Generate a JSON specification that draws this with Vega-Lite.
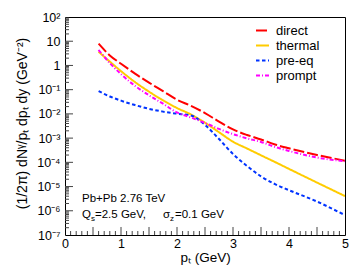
{
  "$schema": "https://vega.github.io/schema/vega-lite/v6.json",
  "width": 280,
  "height": 218,
  "autosize": "none",
  "padding": {"left": 65, "top": 17, "right": 15, "bottom": 45},
  "background": "white",
  "config": {
    "font": "Liberation Sans",
    "view": {"stroke": "#000", "strokeWidth": 1}
  },
  "datasets": {
    "spectra": [
      {"pT": 0.6, "yield": 7.9, "process": "direct"},
      {"pT": 0.8, "yield": 2.6, "process": "direct"},
      {"pT": 1.0, "yield": 1.18, "process": "direct"},
      {"pT": 1.25, "yield": 0.46, "process": "direct"},
      {"pT": 1.5, "yield": 0.195, "process": "direct"},
      {"pT": 1.75, "yield": 0.087, "process": "direct"},
      {"pT": 2.0, "yield": 0.0385, "process": "direct"},
      {"pT": 2.25, "yield": 0.0215, "process": "direct"},
      {"pT": 2.5, "yield": 0.0108, "process": "direct"},
      {"pT": 2.75, "yield": 0.0048, "process": "direct"},
      {"pT": 3.0, "yield": 0.00228, "process": "direct"},
      {"pT": 3.25, "yield": 0.00135, "process": "direct"},
      {"pT": 3.5, "yield": 0.00088, "process": "direct"},
      {"pT": 3.75, "yield": 0.000546, "process": "direct"},
      {"pT": 4.0, "yield": 0.00038, "process": "direct"},
      {"pT": 4.5, "yield": 0.000201, "process": "direct"},
      {"pT": 5.0, "yield": 0.000117, "process": "direct"},

      {"pT": 0.6, "yield": 3.66, "process": "thermal"},
      {"pT": 0.8, "yield": 1.44, "process": "thermal"},
      {"pT": 1.0, "yield": 0.583, "process": "thermal"},
      {"pT": 1.25, "yield": 0.206, "process": "thermal"},
      {"pT": 1.5, "yield": 0.0828, "process": "thermal"},
      {"pT": 1.75, "yield": 0.0361, "process": "thermal"},
      {"pT": 2.0, "yield": 0.0175, "process": "thermal"},
      {"pT": 2.25, "yield": 0.00942, "process": "thermal"},
      {"pT": 2.5, "yield": 0.00432, "process": "thermal"},
      {"pT": 2.75, "yield": 0.00175, "process": "thermal"},
      {"pT": 3.0, "yield": 0.000713, "process": "thermal"},
      {"pT": 3.25, "yield": 0.000373, "process": "thermal"},
      {"pT": 3.5, "yield": 0.000195, "process": "thermal"},
      {"pT": 3.75, "yield": 0.000103, "process": "thermal"},
      {"pT": 4.0, "yield": 0.0000535, "process": "thermal"},
      {"pT": 4.5, "yield": 0.0000146, "process": "thermal"},
      {"pT": 5.0, "yield": 0.00000404, "process": "thermal"},

      {"pT": 0.6, "yield": 0.0875, "process": "pre-eq"},
      {"pT": 0.8, "yield": 0.0524, "process": "pre-eq"},
      {"pT": 1.0, "yield": 0.0351, "process": "pre-eq"},
      {"pT": 1.25, "yield": 0.0231, "process": "pre-eq"},
      {"pT": 1.5, "yield": 0.0162, "process": "pre-eq"},
      {"pT": 1.75, "yield": 0.0124, "process": "pre-eq"},
      {"pT": 2.0, "yield": 0.0102, "process": "pre-eq"},
      {"pT": 2.25, "yield": 0.00865, "process": "pre-eq"},
      {"pT": 2.5, "yield": 0.0035, "process": "pre-eq"},
      {"pT": 2.75, "yield": 0.00092, "process": "pre-eq"},
      {"pT": 3.0, "yield": 0.000221, "process": "pre-eq"},
      {"pT": 3.25, "yield": 0.0000708, "process": "pre-eq"},
      {"pT": 3.5, "yield": 0.0000263, "process": "pre-eq"},
      {"pT": 3.75, "yield": 0.0000126, "process": "pre-eq"},
      {"pT": 4.0, "yield": 0.00000708, "process": "pre-eq"},
      {"pT": 4.5, "yield": 0.0000024, "process": "pre-eq"},
      {"pT": 5.0, "yield": 0.00000066, "process": "pre-eq"},

      {"pT": 0.6, "yield": 4.35, "process": "prompt"},
      {"pT": 0.8, "yield": 1.25, "process": "prompt"},
      {"pT": 1.0, "yield": 0.438, "process": "prompt"},
      {"pT": 1.25, "yield": 0.144, "process": "prompt"},
      {"pT": 1.5, "yield": 0.0587, "process": "prompt"},
      {"pT": 1.75, "yield": 0.0264, "process": "prompt"},
      {"pT": 2.0, "yield": 0.0115, "process": "prompt"},
      {"pT": 2.25, "yield": 0.00708, "process": "prompt"},
      {"pT": 2.5, "yield": 0.00424, "process": "prompt"},
      {"pT": 2.75, "yield": 0.00239, "process": "prompt"},
      {"pT": 3.0, "yield": 0.00146, "process": "prompt"},
      {"pT": 3.25, "yield": 0.000977, "process": "prompt"},
      {"pT": 3.5, "yield": 0.000693, "process": "prompt"},
      {"pT": 3.75, "yield": 0.000431, "process": "prompt"},
      {"pT": 4.0, "yield": 0.000294, "process": "prompt"},
      {"pT": 4.5, "yield": 0.000158, "process": "prompt"},
      {"pT": 5.0, "yield": 0.000112, "process": "prompt"}
    ],
    "xMajor": [{"v": 0.5}, {"v": 1}, {"v": 1.5}, {"v": 2}, {"v": 2.5}, {"v": 3}, {"v": 3.5}, {"v": 4}, {"v": 4.5}],
    "xMinor": [{"v":0.1},{"v":0.2},{"v":0.3},{"v":0.4},{"v":0.6},{"v":0.7},{"v":0.8},{"v":0.9},{"v":1.1},{"v":1.2},{"v":1.3},{"v":1.4},{"v":1.6},{"v":1.7},{"v":1.8},{"v":1.9},{"v":2.1},{"v":2.2},{"v":2.3},{"v":2.4},{"v":2.6},{"v":2.7},{"v":2.8},{"v":2.9},{"v":3.1},{"v":3.2},{"v":3.3},{"v":3.4},{"v":3.6},{"v":3.7},{"v":3.8},{"v":3.9},{"v":4.1},{"v":4.2},{"v":4.3},{"v":4.4},{"v":4.6},{"v":4.7},{"v":4.8},{"v":4.9}],
    "yMajor": [{"v": 1e-6}, {"v": 1e-5}, {"v": 0.0001}, {"v": 0.001}, {"v": 0.01}, {"v": 0.1}, {"v": 1}, {"v": 10}],
    "yMinor": [{"v":2e-7},{"v":3e-7},{"v":4e-7},{"v":5e-7},{"v":6e-7},{"v":7e-7},{"v":8e-7},{"v":9e-7},{"v":2e-6},{"v":3e-6},{"v":4e-6},{"v":5e-6},{"v":6e-6},{"v":7e-6},{"v":8e-6},{"v":9e-6},{"v":2e-5},{"v":3e-5},{"v":4e-5},{"v":5e-5},{"v":6e-5},{"v":7e-5},{"v":8e-5},{"v":9e-5},{"v":0.0002},{"v":0.0003},{"v":0.0004},{"v":0.0005},{"v":0.0006},{"v":0.0007},{"v":0.0008},{"v":0.0009},{"v":0.002},{"v":0.003},{"v":0.004},{"v":0.005},{"v":0.006},{"v":0.007},{"v":0.008},{"v":0.009},{"v":0.02},{"v":0.03},{"v":0.04},{"v":0.05},{"v":0.06},{"v":0.07},{"v":0.08},{"v":0.09},{"v":0.2},{"v":0.3},{"v":0.4},{"v":0.5},{"v":0.6},{"v":0.7},{"v":0.8},{"v":0.9},{"v":2},{"v":3},{"v":4},{"v":5},{"v":6},{"v":7},{"v":8},{"v":9},{"v":20},{"v":30},{"v":40},{"v":50},{"v":60},{"v":70},{"v":80},{"v":90}]
  },
  "layer": [
    {
      "data": {"name": "spectra"},
      "mark": {"type": "line", "strokeWidth": 2, "interpolate": "monotone", "clip": true},
      "encoding": {
        "x": {
          "field": "pT", "type": "quantitative",
          "scale": {"domain": [0, 5], "nice": false, "zero": false},
          "axis": {
            "orient": "bottom",
            "title": "pₜ (GeV)",
            "values": [0, 0.5, 1, 1.5, 2, 2.5, 3, 3.5, 4, 4.5, 5],
            "format": "~g",
            "ticks": false,
            "domain": false,
            "grid": false,
            "labelFontSize": 12.5,
            "labelColor": "#000",
            "labelPadding": 2,
            "labelOverlap": false,
            "labelBound": false,
            "labelFlush": false,
            "titleFontSize": 13.5,
            "titleFontWeight": "normal",
            "titleColor": "#000",
            "titleY": 22,
            "titleBaseline": "middle"
          }
        },
        "y": {
          "field": "yield", "type": "quantitative",
          "scale": {"type": "log", "domain": [1e-7, 100], "nice": false},
          "axis": {
            "orient": "left",
            "title": "(1/2π) dNᵞ/pₜ dpₜ dy (GeV⁻²)",
            "values": [1e-7, 1e-6, 1e-5, 0.0001, 0.001, 0.01, 0.1, 1, 10, 100],
            "labelExpr": "round(log(datum.value)/LN10)==0 ? '1' : round(log(datum.value)/LN10)==1 ? '10' : '10' + replace(replace(replace(replace(replace(replace(replace(replace(''+round(log(datum.value)/LN10),'-','⁻'),'1','¹'),'2','²'),'3','³'),'4','⁴'),'5','⁵'),'6','⁶'),'7','⁷')",
            "ticks": false,
            "domain": false,
            "grid": false,
            "labelFontSize": 12.5,
            "labelColor": "#000",
            "labelPadding": 5,
            "labelOverlap": false,
            "labelBound": false,
            "labelFlush": false,
            "titleFontSize": 14,
            "titleFontWeight": "normal",
            "titleColor": "#000",
            "titleX": -43,
            "titleY": 106,
            "titleAngle": 270,
            "titleAlign": "center",
            "titleBaseline": "middle"
          }
        },
        "color": {
          "field": "process", "type": "nominal",
          "scale": {"domain": ["direct", "thermal", "pre-eq", "prompt"], "range": ["#ff0000", "#ffcc00", "#0033ff", "#ff00ff"]},
          "legend": {
            "title": null, "orient": "none", "legendX": 190, "legendY": 6,
            "symbolType": "stroke", "symbolSize": 169, "symbolStrokeWidth": 2,
            "labelFontSize": 13, "labelColor": "#000", "labelOffset": 6,
            "rowPadding": -0.8, "padding": 0
          }
        },
        "strokeDash": {
          "field": "process", "type": "nominal",
          "scale": {"domain": ["direct", "thermal", "pre-eq", "prompt"], "range": [[11, 3], [1, 0], [3.5, 2.5], [4, 2, 1, 2]]},
          "legend": {
            "title": null, "orient": "none", "legendX": 190, "legendY": 6,
            "symbolType": "stroke", "symbolSize": 169, "symbolStrokeWidth": 2,
            "labelFontSize": 13, "labelColor": "#000", "labelOffset": 6,
            "rowPadding": -0.8, "padding": 0
          }
        }
      }
    },
    {
      "data": {"name": "xMajor"},
      "mark": {"type": "rule", "color": "#444", "strokeWidth": 1},
      "encoding": {"x": {"field": "v", "type": "quantitative"}, "y": {"datum": 1e-7}, "y2": {"datum": 2.14e-7}}
    },
    {
      "data": {"name": "xMinor"},
      "mark": {"type": "rule", "color": "#444", "strokeWidth": 1},
      "encoding": {"x": {"field": "v", "type": "quantitative"}, "y": {"datum": 1e-7}, "y2": {"datum": 1.46e-7}}
    },
    {
      "data": {"name": "yMajor"},
      "mark": {"type": "rule", "color": "#444", "strokeWidth": 1},
      "encoding": {"y": {"field": "v", "type": "quantitative"}, "x": {"datum": 0}, "x2": {"datum": 0.143}}
    },
    {
      "data": {"name": "yMinor"},
      "mark": {"type": "rule", "color": "#444", "strokeWidth": 1},
      "encoding": {"y": {"field": "v", "type": "quantitative"}, "x": {"datum": 0}, "x2": {"datum": 0.0714}}
    },
    {
      "data": {"values": [{"label": "Pb+Pb 2.76 TeV"}]},
      "mark": {"type": "text", "align": "left", "baseline": "alphabetic", "fontSize": 11.5, "color": "#000"},
      "encoding": {"x": {"datum": 0.3036}, "y": {"datum": 2.35e-6}, "text": {"field": "label"}}
    },
    {
      "data": {"values": [{"label": "Q"}]},
      "mark": {"type": "text", "align": "left", "baseline": "alphabetic", "fontSize": 11.5, "color": "#000"},
      "encoding": {"x": {"datum": 0.3036}, "y": {"datum": 4.83e-7}, "text": {"field": "label"}}
    },
    {
      "data": {"values": [{"label": "s"}]},
      "mark": {"type": "text", "align": "left", "baseline": "alphabetic", "fontSize": 8, "color": "#000"},
      "encoding": {"x": {"datum": 0.4643}, "y": {"datum": 3.73e-7}, "text": {"field": "label"}}
    },
    {
      "data": {"values": [{"label": "=2.5 GeV,"}]},
      "mark": {"type": "text", "align": "left", "baseline": "alphabetic", "fontSize": 11.5, "color": "#000"},
      "encoding": {"x": {"datum": 0.5357}, "y": {"datum": 4.83e-7}, "text": {"field": "label"}}
    },
    {
      "data": {"values": [{"label": "σ"}]},
      "mark": {"type": "text", "align": "left", "baseline": "alphabetic", "fontSize": 11.5, "color": "#000"},
      "encoding": {"x": {"datum": 1.75}, "y": {"datum": 4.83e-7}, "text": {"field": "label"}}
    },
    {
      "data": {"values": [{"label": "z"}]},
      "mark": {"type": "text", "align": "left", "baseline": "alphabetic", "fontSize": 8, "color": "#000"},
      "encoding": {"x": {"datum": 1.875}, "y": {"datum": 3.73e-7}, "text": {"field": "label"}}
    },
    {
      "data": {"values": [{"label": "=0.1 GeV"}]},
      "mark": {"type": "text", "align": "left", "baseline": "alphabetic", "fontSize": 11.5, "color": "#000"},
      "encoding": {"x": {"datum": 1.964}, "y": {"datum": 4.83e-7}, "text": {"field": "label"}}
    }
  ]
}
